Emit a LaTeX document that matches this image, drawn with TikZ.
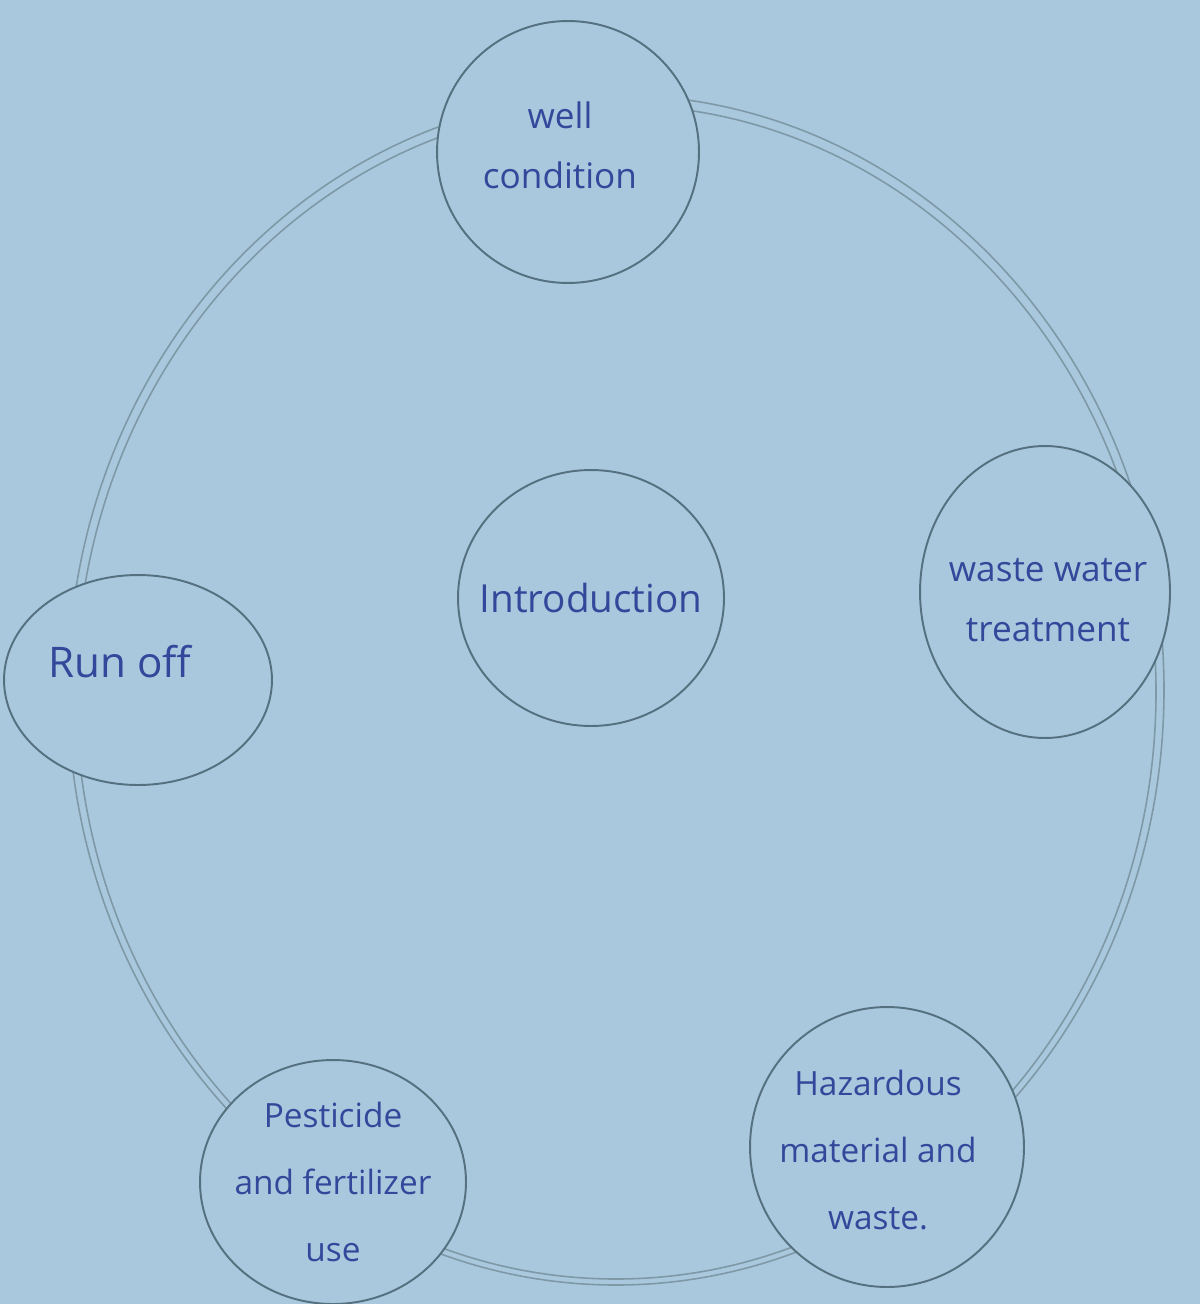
\documentclass[tikz,border=0pt]{standalone}
\usepackage{fontspec}
\usetikzlibrary{shapes.geometric}
\setmainfont{Open Sans}
\definecolor{paper}{HTML}{A9C8DE}
\definecolor{ink}{HTML}{34479A}
\definecolor{pencil}{HTML}{55707F}
\definecolor{graphite}{HTML}{7F98A6}
\begin{document}
\begin{tikzpicture}[x=0.02cm,y=-0.02cm,
  topic/.style={draw=pencil,line width=1.1pt,fill=paper,ellipse,inner sep=0pt},
  words/.style={text=ink,align=center,font=\fontsize{20}{34}\selectfont},
  ring/.style={draw=graphite,line width=0.9pt}]
\fill[paper] (0,0) rectangle (1200,1304);
\useasboundingbox (0,0) rectangle (1200,1304);
% outer double ring
\draw[ring] (616,690) ellipse [x radius=548,y radius=595];
\draw[ring] (616,692) ellipse [x radius=540,y radius=587];
% topic circles
\node[topic,minimum width=5.24cm,minimum height=5.24cm] (well) at (568,152) {};
\node[topic,minimum width=5.0cm,minimum height=5.84cm] (waste) at (1045,592) {};
\node[topic,minimum width=5.32cm,minimum height=5.12cm] (intro) at (591,598) {};
\node[topic,minimum width=5.36cm,minimum height=4.2cm] (run) at (138,680) {};
\node[topic,minimum width=5.32cm,minimum height=4.88cm] (pest) at (333,1182) {};
\node[topic,minimum width=5.48cm,minimum height=5.6cm] (haz) at (887,1147) {};
% texts
\node[words] (wellt) at ([shift={(-0.16cm,0.14cm)}]well.center) {well\\condition};
\node[words] (wastet) at ([shift={(0.06cm,-0.16cm)}]waste.center) {waste water\\treatment};
\node[words,font=\fontsize{22}{30}\selectfont] (introt) at (intro.center) {Introduction};
\node[words,font=\fontsize{24}{30}\selectfont] (runt) at ([shift={(-0.36cm,0.36cm)}]run.center) {Run off};
\node[words,font=\fontsize{19}{38}\selectfont] (pestt) at (pest.center) {Pesticide\\and fertilizer\\use};
\node[words,font=\fontsize{19}{38}\selectfont] (hazt) at ([shift={(-0.18cm,-0.06cm)}]haz.center) {Hazardous\\material and\\waste.};
\end{tikzpicture}
\end{document}
